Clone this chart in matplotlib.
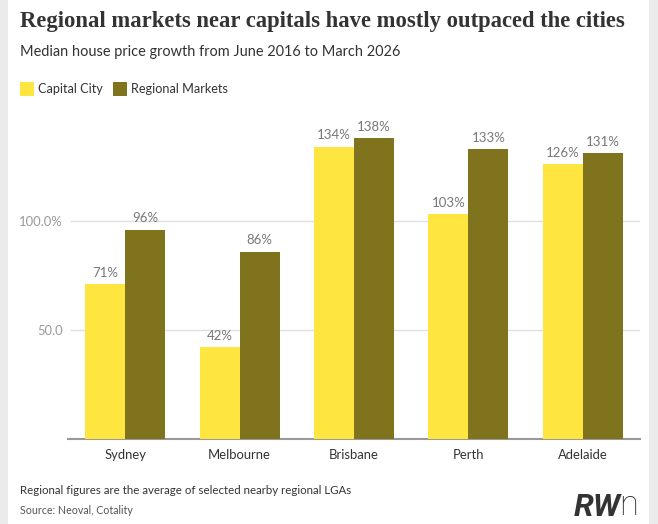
import matplotlib
matplotlib.use('Agg')
import matplotlib.pyplot as plt
from matplotlib.patches import Rectangle
import numpy as np

# Data
cities = ['Sydney', 'Melbourne', 'Brisbane', 'Perth', 'Adelaide']
capital = [71, 42, 134, 103, 126]
regional = [96, 86, 138, 133, 131]
series_names = ['Capital City', 'Regional Markets']

yellow = '#FFE53F'
olive = '#7F731E'
W, H = 658, 524

fig = plt.figure(figsize=(W/100, H/100), dpi=100)
fig.patch.set_facecolor('#EBEBEB')
# white card behind everything
fig.patches.append(Rectangle((8/W, 0), (649-8)/W, 1, transform=fig.transFigure,
                             facecolor='white', edgecolor='none', zorder=-5))

ax = fig.add_axes([68/W, (H-439)/H, 572/W, 327/H])
ax.set_zorder(2)
ax.set_facecolor('none')
x = np.arange(len(cities))
bw = 0.35
ax.bar(x - bw/2, capital, bw, color=yellow, zorder=3)
ax.bar(x + bw/2, regional, bw, color=olive, zorder=3)

for xi, v in zip(x, capital):
    ax.text(xi - bw/2, v + 2.5, f'{v}%', ha='center', va='bottom', fontsize=9.5,
            color='#777777', family='Lato')
for xi, v in zip(x, regional):
    ax.text(xi + bw/2, v + 2.5, f'{v}%', ha='center', va='bottom', fontsize=9.5,
            color='#777777', family='Lato')

ax.set_xlim(-0.5, len(cities) - 0.5)
ax.set_ylim(0, 150)
ax.set_yticks([50, 100])
ax.set_yticklabels(['50.0', '100.0%'], family='Lato', fontsize=9.4, color='#999999')
ax.set_xticks(x)
ax.set_xticklabels(cities, family='Lato', fontsize=9.4, color='#333333')
ax.tick_params(axis='both', length=0)
ax.tick_params(axis='y', pad=3.5)
ax.tick_params(axis='x', pad=7)
for s in ['top', 'right', 'left']:
    ax.spines[s].set_visible(False)
ax.spines['bottom'].set_color('#999999')
ax.spines['bottom'].set_linewidth(1.5)
for gy in [50, 100]:
    ax.axhline(gy, xmin=3/572, xmax=1, color='#E0E0E0', lw=1, zorder=1)

# header
fig.text(20/W, 1 - 22/H, 'Regional markets near capitals have mostly outpaced the cities',
         fontsize=16.3, fontweight='bold', family='Liberation Serif', color='#333333',
         va='center', ha='left')
fig.text(20/W, 1 - 52/H, 'Median house price growth from June 2016 to March 2026',
         fontsize=10.45, family='Lato', color='#333333', va='center', ha='left')

# legend
for i, (name, col) in enumerate(zip(series_names, [yellow, olive])):
    lx = [20, 113][i]
    fig.patches.append(Rectangle((lx/W, 1 - 96/H), 14/W, 14/H, transform=fig.transFigure,
                                 facecolor=col, edgecolor='none'))
    fig.text((lx + 18)/W, 1 - 89/H, name, fontsize=9.1, family='Lato', color='#333333',
             va='center', ha='left')

# footer
fig.text(20/W, 1 - 490/H, 'Regional figures are the average of selected nearby regional LGAs',
         fontsize=8.3, family='Lato', color='#333333', va='center', ha='left')
fig.text(20/W, 1 - 510/H, 'Source: Neoval, Cotality', fontsize=7.7, family='Lato',
         color='#555555', va='center', ha='left')
fig.text(574/W, 1 - 507/H, 'RW', fontsize=23, fontweight='bold', fontstyle='italic',
         family='Roboto', color='#333333', va='center', ha='left')
fig.text(619/W, 1 - 505/H, 'n', fontsize=25, fontweight='light',
         family='Roboto', color='#333333', va='center', ha='left')

fig.savefig('out.png', dpi=100)
